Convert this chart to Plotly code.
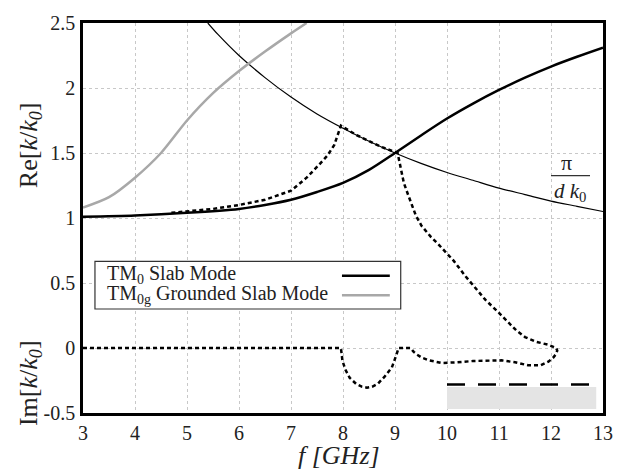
import plotly.graph_objects as go

# ---- data ----
f_tm0 = [3.0, 4.0, 5.0, 6.0, 6.5, 7.0, 7.5, 8.0, 8.5, 9.0, 9.5, 10.0, 10.5, 11.0, 11.5, 12.0, 12.5, 13.0]
re_tm0 = [1.01, 1.02, 1.04, 1.07, 1.10, 1.14, 1.20, 1.27, 1.37, 1.50, 1.635, 1.765, 1.88, 1.985, 2.08, 2.165, 2.24, 2.31]

f_tm0g = [3.0, 3.5, 4.0, 4.5, 5.0, 5.5, 6.0, 6.5, 7.0, 7.3]
re_tm0g = [1.08, 1.16, 1.31, 1.50, 1.75, 1.96, 2.13, 2.28, 2.42, 2.50]

f_pi = [5.4, 5.6, 6.0, 6.5, 7.0, 7.5, 8.0, 8.5, 9.0, 9.5, 10.0, 10.5, 11.0, 11.5, 12.0, 12.5, 13.0]
re_pi = [2.50, 2.41, 2.25, 2.08, 1.93, 1.80, 1.69, 1.59, 1.50, 1.42, 1.35, 1.29, 1.23, 1.18, 1.13, 1.09, 1.05]

f_leaky_re = [4.7, 5.0, 5.5, 6.0, 6.5, 7.0, 7.3, 7.54, 7.7, 7.83, 7.92, 7.96, 8.25, 8.5, 8.75, 9.05,
              9.1, 9.17, 9.26, 9.4, 9.51, 9.69, 9.84, 10.13, 10.36, 10.74, 11.0, 11.18, 11.33, 11.5, 11.72, 11.95, 12.1]
re_leaky = [1.04, 1.05, 1.07, 1.10, 1.14, 1.21, 1.31, 1.41, 1.48, 1.56, 1.66, 1.71, 1.64, 1.59, 1.545, 1.50,
            1.40, 1.27, 1.17, 1.02, 0.94, 0.855, 0.795, 0.67, 0.55, 0.37, 0.27, 0.196, 0.136, 0.084, 0.047, 0.025, 0.0]

f_leaky_im = [3.0, 7.96, 7.99, 8.05, 8.13, 8.25, 8.36, 8.46, 8.56, 8.67, 8.8, 8.94, 9.02, 9.07, 9.3, 9.36, 9.42,
              9.52, 9.65, 9.9, 10.2, 10.5, 11.05, 11.31, 11.56, 11.8, 11.95, 12.04, 12.1, 12.12, 12.1]
im_leaky = [0.0, 0.0, -0.10, -0.17, -0.23, -0.275, -0.297, -0.305, -0.298, -0.275, -0.22, -0.15, -0.06, 0.0, 0.0,
            -0.03, -0.05, -0.075, -0.095, -0.115, -0.11, -0.10, -0.095, -0.11, -0.133, -0.133, -0.105, -0.075,
            -0.045, -0.02, 0.0]

band_f = [10.0, 12.87]
band_line = [-0.28, -0.28]
band_top = -0.30
band_bottom = -0.47

xticks = [3, 4, 5, 6, 7, 8, 9, 10, 11, 12, 13]
yticks = [-0.5, 0, 0.5, 1, 1.5, 2, 2.5]
ytick_text = ["-0.5", "0", "0.5", "1", "1.5", "2", "2.5"]

FONT = "Liberation Serif, Times New Roman, serif"
DOTS = "4px,3px"
INK = "#222"

fig = go.Figure()

# shaded band
fig.add_trace(go.Scatter(
    x=[band_f[0], band_f[1], band_f[1], band_f[0], band_f[0]],
    y=[band_top, band_top, band_bottom, band_bottom, band_top],
    fill="toself", fillcolor="#e4e4e4", line=dict(width=0), mode="lines",
    hoverinfo="skip", showlegend=False))
fig.add_trace(go.Scatter(x=band_f, y=band_line, mode="lines",
                         line=dict(color="black", width=2.5, dash="18px,13px"), showlegend=False))

# pi/(d k0)
fig.add_trace(go.Scatter(x=f_pi, y=re_pi, mode="lines", line=dict(color="black", width=1.2, shape="spline", smoothing=0.8),
                         showlegend=False))
# grounded slab mode
fig.add_trace(go.Scatter(x=f_tm0g, y=re_tm0g, mode="lines", line=dict(color="#a8a8a8", width=2.5, shape="spline", smoothing=0.8),
                         showlegend=False))
# slab mode
fig.add_trace(go.Scatter(x=f_tm0, y=re_tm0, mode="lines", line=dict(color="black", width=2.5, shape="spline", smoothing=0.8),
                         showlegend=False))
# leaky re / im
fig.add_trace(go.Scatter(x=f_leaky_re, y=re_leaky, mode="lines",
                         line=dict(color="black", width=2.5, dash=DOTS),
                         showlegend=False))
fig.add_trace(go.Scatter(x=f_leaky_im, y=im_leaky, mode="lines",
                         line=dict(color="black", width=2.5, dash=DOTS),
                         showlegend=False))

ann = []
shapes = []
# legend box
shapes.append(dict(type="rect", xref="x", yref="y", x0=3.23, x1=9.11, y0=0.30, y1=0.667,
                   line=dict(color="#333", width=1.2), fillcolor="white", layer="above"))
shapes.append(dict(type="line", xref="x", yref="y", x0=7.98, x1=8.90, y0=0.555, y1=0.555,
                   line=dict(color="black", width=2.5), layer="above"))
shapes.append(dict(type="line", xref="x", yref="y", x0=7.98, x1=8.90, y0=0.406, y1=0.406,
                   line=dict(color="#a8a8a8", width=2.5), layer="above"))
ann.append(dict(x=3.42, y=0.565, xref="x", yref="y", xanchor="left", yanchor="middle", showarrow=False,
                text="TM<sub>0</sub> Slab Mode", font=dict(family=FONT, size=20, color=INK)))
ann.append(dict(x=3.42, y=0.415, xref="x", yref="y", xanchor="left", yanchor="middle", showarrow=False,
                text="TM<sub>0g</sub> Grounded Slab Mode", font=dict(family=FONT, size=20, color=INK)))

# pi / d k0 label
ann.append(dict(x=12.3, y=1.43, xref="x", yref="y", xanchor="center", showarrow=False, text="π",
                font=dict(family=FONT, size=22, color=INK)))
shapes.append(dict(type="line", xref="x", yref="y", x0=12.0, x1=12.75, y0=1.326, y1=1.326,
                   line=dict(color="#333", width=1.2)))
ann.append(dict(x=12.37, y=1.2, xref="x", yref="y", xanchor="center", showarrow=False, text="<i>d k</i><sub>0</sub>",
                font=dict(family=FONT, size=21, color=INK)))

# axis titles
ann.append(dict(x=-0.102, y=1.56, xref="paper", yref="y", xanchor="center", yanchor="middle", textangle=-90,
                showarrow=False, text="Re[<i>k</i>/<i>k</i><sub><i>0</i></sub>]",
                font=dict(family=FONT, size=26, color=INK)))
ann.append(dict(x=-0.102, y=-0.27, xref="paper", yref="y", xanchor="center", yanchor="middle", textangle=-90,
                showarrow=False, text="Im[<i>k</i>/<i>k</i><sub><i>0</i></sub>]",
                font=dict(family=FONT, size=26, color=INK)))
ann.append(dict(x=7.92, y=-0.11, xref="x", yref="paper", xanchor="center", yanchor="middle", showarrow=False,
                text="<i>f [GHz]</i>", font=dict(family=FONT, size=26, color=INK)))

fig.update_layout(
    width=625, height=476, margin=dict(l=83, r=20, t=12, b=63),
    paper_bgcolor="white", plot_bgcolor="white",
    font=dict(family=FONT, size=20, color=INK),
    annotations=ann, shapes=shapes, showlegend=False,
    xaxis=dict(range=[3, 13], tickvals=xticks, showgrid=True, gridcolor="#c8c8c8", griddash="dot", gridwidth=1,
               showline=True, mirror=True, linecolor="black", linewidth=2.5, ticks="", zeroline=False,
               tickfont=dict(family=FONT, size=20, color=INK), ticklabelstandoff=0),
    yaxis=dict(range=[-0.5, 2.5], tickvals=yticks, ticktext=ytick_text, showgrid=True, gridcolor="#c8c8c8",
               griddash="dot", gridwidth=1, showline=True, mirror=True, linecolor="black", linewidth=2.5,
               ticks="", zeroline=False, tickfont=dict(family=FONT, size=20, color=INK), ticklabelstandoff=1),
)

fig.write_html("out.html")
